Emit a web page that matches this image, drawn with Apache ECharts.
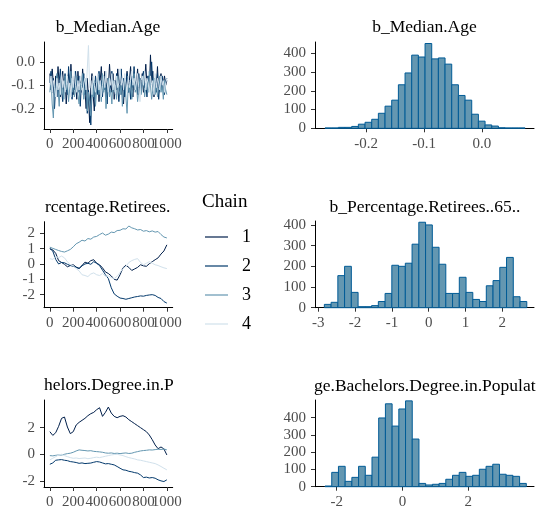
<!DOCTYPE html>
<html>
<head>
<meta charset="utf-8">
<script src="https://cdn.jsdelivr.net/npm/echarts@6/dist/echarts.min.js"></script>
<style>
  html, body { margin: 0; padding: 0; background: #fff; }
  #combo { width: 545px; height: 521px; }
</style>
</head>
<body>
<div id="combo"></div>
<script>
// chain colours (bayesplot blue scheme)
const chainNames = ['1', '2', '3', '4']
const chainColors = ['#011f4b', '#03396c', '#6497b1', '#d1e1ec']

// b_Median.Age trace, one value every 10 iterations
const ageStep = 10
const ageChain1 = [-0.05,-0.12,-0.03,-0.09,-0.14,-0.06,-0.11,-0.02,-0.10,-0.15,
  -0.08,-0.04,-0.13,-0.07,-0.18,-0.09,-0.05,-0.12,-0.01,-0.10,
  -0.14,-0.06,-0.09,-0.16,-0.04,-0.11,-0.08,-0.13,-0.03,-0.10,
  -0.12,-0.20,-0.07,-0.15,-0.26,-0.11,-0.05,-0.14,-0.21,-0.09,
  -0.13,-0.06,-0.17,-0.08,-0.02,-0.12,-0.10,-0.04,-0.15,-0.07,
  -0.11,-0.01,-0.09,-0.13,-0.05,-0.16,-0.08,-0.12,-0.03,-0.10,
  -0.06,-0.14,-0.09,-0.18,-0.07,-0.11,-0.04,-0.13,-0.08,-0.02,
  -0.10,-0.15,-0.06,-0.12,-0.09,-0.03,-0.14,-0.07,-0.11,-0.05,
  -0.13,-0.08,-0.01,-0.10,-0.06,-0.12,0.03,-0.09,-0.04,-0.15,
  -0.07,-0.11,-0.02,-0.13,-0.08,-0.05,-0.12,-0.09,-0.06,-0.10,-0.08]
const ageChain2 = [-0.09,-0.04,-0.13,-0.07,-0.20,-0.10,-0.06,-0.15,-0.08,-0.03,
  -0.12,-0.17,-0.09,-0.05,-0.11,-0.14,-0.02,-0.10,-0.07,-0.16,
  -0.08,-0.12,-0.04,-0.10,-0.13,-0.06,-0.19,-0.09,-0.11,-0.05,
  -0.14,-0.08,-0.22,-0.12,-0.17,-0.27,-0.13,-0.09,-0.16,-0.06,
  -0.10,-0.14,-0.04,-0.11,-0.08,-0.15,-0.06,-0.12,-0.09,-0.18,
  -0.07,-0.13,-0.10,-0.04,-0.12,-0.08,-0.14,-0.05,-0.11,-0.17,
  -0.09,-0.03,-0.12,-0.07,-0.15,-0.10,-0.05,-0.13,-0.09,-0.16,
  -0.06,-0.11,-0.02,-0.12,-0.08,-0.14,-0.05,-0.10,-0.13,-0.07,
  -0.04,-0.11,-0.09,-0.15,-0.06,-0.12,-0.08,0.00,-0.10,-0.14,
  -0.07,-0.13,-0.05,-0.16,-0.09,-0.12,-0.06,-0.10,-0.14,-0.08,-0.07]
const ageChain3 = [-0.13,-0.07,-0.18,-0.24,-0.10,-0.15,-0.05,-0.12,-0.19,-0.08,
  -0.14,-0.10,-0.16,-0.06,-0.12,-0.09,-0.17,-0.11,-0.04,-0.13,
  -0.08,-0.15,-0.10,-0.06,-0.14,-0.18,-0.09,-0.12,-0.05,-0.16,
  -0.11,-0.07,-0.21,-0.13,-0.18,-0.23,-0.10,-0.15,-0.08,-0.19,
  -0.12,-0.06,-0.14,-0.10,-0.17,-0.05,-0.13,-0.09,-0.20,-0.11,
  -0.07,-0.15,-0.12,-0.18,-0.08,-0.13,-0.10,-0.16,-0.06,-0.12,
  -0.14,-0.09,-0.19,-0.11,-0.07,-0.15,-0.22,-0.10,-0.13,-0.08,
  -0.16,-0.11,-0.05,-0.13,-0.09,-0.17,-0.12,-0.07,-0.14,-0.10,
  -0.06,-0.15,-0.11,-0.08,-0.13,-0.04,-0.10,-0.16,-0.12,-0.07,
  -0.14,-0.09,-0.15,-0.11,-0.06,-0.13,-0.10,-0.16,-0.08,-0.12,-0.14]
const ageChain4 = [-0.10,-0.06,-0.13,-0.08,-0.11,-0.15,-0.07,-0.12,-0.09,-0.14,
  -0.05,-0.11,-0.08,-0.13,-0.10,-0.06,-0.12,-0.09,-0.15,-0.07,
  -0.11,-0.04,-0.10,-0.13,-0.08,-0.12,-0.06,-0.10,-0.14,-0.09,
  -0.07,-0.12,-0.03,0.07,-0.11,-0.08,-0.14,-0.06,-0.10,-0.13,
  -0.09,-0.05,-0.12,-0.08,-0.15,-0.10,-0.06,-0.11,-0.04,-0.09,
  -0.13,-0.07,-0.10,-0.05,-0.12,-0.08,-0.14,-0.06,-0.11,-0.09,
  -0.03,-0.10,-0.07,-0.12,-0.05,-0.09,-0.13,-0.06,-0.11,-0.08,
  -0.04,-0.10,-0.07,-0.12,-0.09,-0.05,-0.11,-0.17,-0.08,-0.06,
  -0.10,-0.04,-0.12,-0.07,-0.09,-0.13,-0.06,-0.10,-0.08,-0.14,
  -0.05,-0.11,-0.07,-0.09,-0.12,-0.06,-0.10,-0.08,-0.13,-0.09,-0.07]

// b_Percentage.Retirees..65.. trace, one value every 25 iterations
const retStep = 25
const retChain1 = [1.00,0.92,0.70,0.22,0.10,-0.02,-0.18,-0.10,-0.05,-0.20,
  -0.28,-0.10,0.12,0.05,0.22,0.28,0.05,-0.05,-0.25,-0.52,
  -0.62,-0.78,-1.00,-1.05,-0.70,-0.25,-0.08,-0.22,-0.42,-0.32,
  -0.22,-0.05,-0.12,-0.15,0.02,0.15,0.28,0.40,0.65,0.85,1.25]
const retChain2 = [1.00,0.85,0.30,0.00,0.10,0.08,-0.02,-0.10,-0.15,-0.22,
  -0.30,-0.12,0.00,0.05,-0.02,0.15,0.05,-0.10,-0.40,-0.70,
  -0.95,-1.55,-1.95,-2.10,-2.22,-2.25,-2.30,-2.25,-2.20,-2.15,
  -2.12,-2.08,-2.10,-2.05,-2.02,-2.00,-2.05,-2.18,-2.25,-2.45,-2.55]
const retChain3 = [1.10,1.02,0.95,0.88,0.82,0.78,0.86,0.95,1.12,1.32,
  1.42,1.55,1.50,1.66,1.62,1.76,1.80,1.92,2.02,1.88,
  1.95,2.08,2.05,2.18,2.20,2.30,2.28,2.48,2.36,2.30,
  2.22,2.25,2.14,2.18,2.10,2.16,2.08,2.12,1.92,1.76,1.70]
const retChain4 = [0.35,0.30,0.48,0.42,0.52,0.40,0.15,-0.05,-0.12,-0.30,
  -0.45,-0.70,-0.75,-0.82,-0.65,-0.58,-0.70,-0.75,-0.62,-0.80,
  -0.78,-0.88,-0.95,-0.80,-0.55,-0.30,-0.15,0.10,0.22,0.30,
  0.35,0.10,-0.05,0.05,0.15,0.05,-0.05,-0.10,-0.18,-0.25,-0.30]

// b_Percentage.Bachelors.Degree.in.Population trace, every 25 iterations
const bacStep = 25
const bacChain1 = [1.70,1.42,1.62,2.10,2.70,2.80,2.05,1.55,1.70,2.20,
  2.40,2.55,2.70,2.90,3.05,3.15,3.35,3.50,2.85,3.15,
  3.55,3.10,2.85,2.75,2.85,2.90,2.80,2.60,2.45,2.30,
  2.15,2.00,1.85,1.70,1.45,1.10,0.70,0.42,0.55,0.40,-0.05]
const bacChain2 = [-0.75,-0.65,-0.45,-0.42,-0.40,-0.45,-0.48,-0.55,-0.58,-0.62,
  -0.68,-0.65,-0.70,-0.68,-0.66,-0.60,-0.55,-0.58,-0.65,-0.72,
  -0.70,-0.75,-0.80,-0.92,-1.05,-1.17,-1.20,-1.28,-1.32,-1.38,
  -1.42,-1.55,-1.75,-1.72,-1.78,-1.75,-1.80,-1.92,-2.00,-2.05,-1.92]
const bacChain3 = [-0.10,-0.12,-0.08,-0.05,-0.06,0.00,0.05,0.08,0.15,0.25,
  0.33,0.30,0.28,0.25,0.27,0.22,0.20,0.18,0.15,0.10,
  0.08,0.10,0.06,0.08,0.05,0.08,0.10,0.06,0.08,0.15,
  0.20,0.25,0.28,0.30,0.33,0.32,0.35,0.38,0.36,0.40,0.33]
const bacChain4 = [-0.42,-0.30,-0.18,-0.05,0.00,-0.10,-0.18,-0.25,-0.30,-0.28,
  -0.32,-0.30,-0.28,-0.33,-0.30,-0.25,-0.22,-0.25,-0.20,-0.15,
  -0.10,-0.05,-0.02,0.00,-0.05,-0.10,-0.18,-0.25,-0.30,-0.35,
  -0.42,-0.45,-0.50,-0.55,-0.60,-0.65,-0.70,-0.80,-0.92,-1.05,-1.17]

// histograms: 30 bins between the range ends, counts
const ageRange = [-0.2707, 0.0743]
const ageCounts = [2,2,5,5,10,22,32,48,80,118,150,232,295,390,380,452,370,375,342,232,175,150,75,38,18,12,3,2,2,2]
const retRange = [-2.836, 2.664]
const retCounts = [16,26,155,200,74,5,5,10,30,69,205,200,215,307,413,400,292,210,69,69,147,74,40,30,106,131,195,243,53,30]
const bacRange = [-2.355, 3.766]
const bacCounts = [4,83,118,31,54,118,66,171,398,480,351,450,497,276,19,10,14,19,43,66,83,60,66,101,118,130,72,66,60,19]

// tick labels
const iterTicks = [0, 200, 400, 600, 800, 1000]
const iterLabelsA = [0, 400, 800]
const iterLabelsB = [200, 600, 1000]
const ageTraceTicks = [-0.2, -0.1, 0.0]
const ageHistTicks = [-0.2, -0.1, 0.0]
const retTraceTicks = [-2, -1, 0, 1, 2]
const retHistTicks = [-3, -2, -1, 0, 1, 2]
const bacTraceTicks = [-2, 0, 2]
const bacHistTicks = [-2, 0, 2]
const countTicks = [0, 100, 200, 300, 400]

const serif = 'Liberation Serif'

function axisBase(ticks, fmt) {
    return {
        type: 'value',
        scale: true,
        splitLine: { show: false },
        axisLine: { show: true, onZero: false, lineStyle: { color: '#000', width: 1 } },
        axisTick: { show: true, length: 4, customValues: ticks, lineStyle: { color: '#333' } },
        axisLabel: {
            customValues: ticks,
            hideOverlap: false,
            color: '#4d4d4d',
            fontFamily: serif,
            fontSize: 15,
            margin: 8,
            formatter: fmt || function (v) { return String(v) }
        }
    }
}

// iteration axis: the labels crowd each other like in the original, so they
// are split over two stacked axes to stop echarts from dropping one
function iterAxis(grid) {
    let a = axisBase(iterTicks)
    a.gridIndex = grid
    a.position = 'bottom'
    a.offset = 0
    a.min = -50
    a.max = 1050
    a.axisLabel.customValues = iterLabelsA
    return a
}

function iterAxisOverlay(grid) {
    let a = axisBase(iterLabelsB)
    a.gridIndex = grid
    a.position = 'bottom'
    a.offset = 0
    a.min = -50
    a.max = 1050
    a.axisLine.show = false
    a.axisTick.show = false
    return a
}

function traceSeries(grid, step, chains) {
    let out = []
    for (let c = 0; c < chains.length; c++) {
        let pts = []
        for (let i = 0; i < chains[c].length; i++) {
            pts.push([i * step, chains[c][i]])
        }
        out.push({
            name: chainNames[c],
            type: 'line',
            xAxisIndex: grid,
            yAxisIndex: grid,
            data: pts,
            showSymbol: false,
            color: chainColors[c],
            lineStyle: { color: chainColors[c], width: 1 },
            z: 2 + c
        })
    }
    return out
}

function histSeries(grid, range, counts) {
    let w = (range[1] - range[0]) / counts.length
    let bins = counts.map(function (n, i) {
        return [range[0] + i * w, range[0] + (i + 1) * w, n]
    })
    return {
        type: 'custom',
        xAxisIndex: grid,
        yAxisIndex: grid,
        data: bins,
        encode: { x: [0, 1], y: 2 },
        renderItem: function (params, api) {
            let p0 = api.coord([api.value(0), api.value(2)])
            let p1 = api.coord([api.value(1), 0])
            return {
                type: 'rect',
                shape: { x: p0[0], y: p0[1], width: p1[0] - p0[0], height: p1[1] - p0[1] },
                style: { fill: '#6497b1', stroke: '#005b96', lineWidth: 1 }
            }
        }
    }
}

function oneDec(v) { return v.toFixed(1) }

function titleAt(text, x, y, align) {
    return {
        text: text,
        left: x,
        top: y,
        textAlign: align,
        padding: 0,
        textStyle: { fontFamily: serif, fontSize: 17.5, fontWeight: 'normal', color: '#000' }
    }
}

function draw() {
    let chart = echarts.init(document.getElementById('combo'), null, { renderer: 'canvas' })

    let grids = [
        { left: 44, top: 42, width: 128.7, height: 87 },
        { left: 315, top: 42, width: 219, height: 86.3 },
        { left: 44, top: 221.7, width: 128.7, height: 86 },
        { left: 315, top: 221, width: 219, height: 86.7 },
        { left: 44, top: 400, width: 128.7, height: 87 },
        { left: 315, top: 400, width: 219, height: 86.7 }
    ]

    let xAxes = [
        iterAxis(0),
        Object.assign(axisBase(ageHistTicks, oneDec), { gridIndex: 1, min: -0.288, max: 0.0897 }),
        iterAxis(2),
        Object.assign(axisBase(retHistTicks), { gridIndex: 3, min: -3.09, max: 2.86 }),
        iterAxis(4),
        Object.assign(axisBase(bacHistTicks), { gridIndex: 5, min: -2.66, max: 4.0 }),
        iterAxisOverlay(0),
        iterAxisOverlay(2),
        iterAxisOverlay(4)
    ]
    let yAxes = [
        Object.assign(axisBase(ageTraceTicks, oneDec), { gridIndex: 0, min: -0.287, max: 0.085 }),
        Object.assign(axisBase(countTicks), { gridIndex: 1, min: 0, max: 460 }),
        Object.assign(axisBase(retTraceTicks), { gridIndex: 2, min: -2.85, max: 2.76 }),
        Object.assign(axisBase(countTicks), { gridIndex: 3, min: 0, max: 419 }),
        Object.assign(axisBase(bacTraceTicks), { gridIndex: 4, min: -2.46, max: 4.08 }),
        Object.assign(axisBase(countTicks), { gridIndex: 5, min: 0, max: 502 })
    ]
    yAxes.forEach(function (a) { a.axisLabel.margin = 9 })

    let series = []
        .concat(traceSeries(0, ageStep, [ageChain1, ageChain2, ageChain3, ageChain4]))
        .concat([histSeries(1, ageRange, ageCounts)])
        .concat(traceSeries(2, retStep, [retChain1, retChain2, retChain3, retChain4]))
        .concat([histSeries(3, retRange, retCounts)])
        .concat(traceSeries(4, bacStep, [bacChain1, bacChain2, bacChain3, bacChain4]))
        .concat([histSeries(5, bacRange, bacCounts)])

    let option = {
        animation: false,
        backgroundColor: '#fff',
        title: [
            titleAt('b_Median.Age', 108, 18, 'center'),
            titleAt('b_Median.Age', 424.5, 18, 'center'),
            titleAt('rcentage.Retirees.', 45, 198, 'left'),
            titleAt('b_Percentage.Retirees..65..', 425, 198, 'center'),
            titleAt('helors.Degree.in.P', 44, 376, 'left'),
            titleAt('ge.Bachelors.Degree.in.Populat', 314, 377, 'left'),
            {
                text: 'Chain', left: 202, top: 193, padding: 0,
                textStyle: { fontFamily: serif, fontSize: 19, fontWeight: 'normal', color: '#000' }
            }
        ],
        legend: {
            data: chainNames,
            orient: 'vertical',
            left: 205,
            top: 228,
            padding: 0,
            itemGap: 11,
            itemWidth: 23,
            itemHeight: 1.2,
            icon: 'rect',
            selectedMode: false,
            textStyle: { fontFamily: serif, fontSize: 18, color: '#000', padding: [0, 0, 0, 9] }
        },
        grid: grids,
        xAxis: xAxes,
        yAxis: yAxes,
        series: series
    }
    chart.setOption(option)
}

draw()
</script>
</body>
</html>
